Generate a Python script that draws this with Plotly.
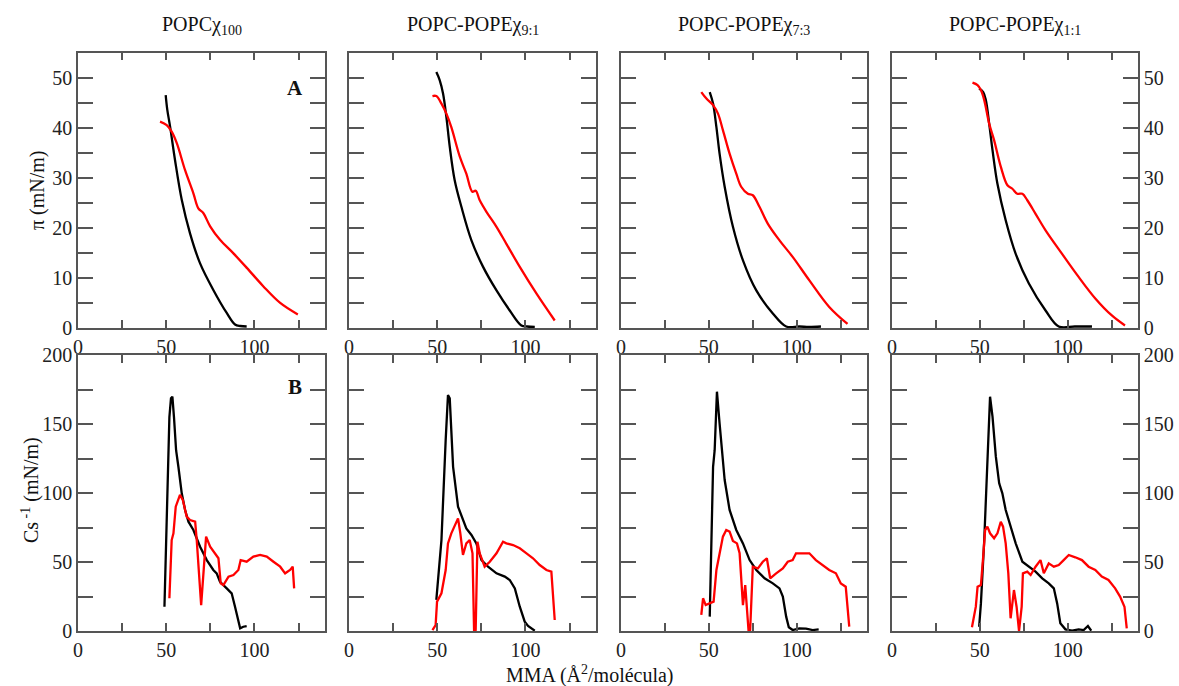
import plotly.graph_objects as go

# ---------------- data ----------------
panel_titles = ["POPCχ<sub>100</sub>", "POPC-POPEχ<sub>9:1</sub>",
                "POPC-POPEχ<sub>7:3</sub>", "POPC-POPEχ<sub>1:1</sub>"]
x_ticks = [0, 50, 100]
x_minor_step = 25
pi_ticks = [0, 10, 20, 30, 40, 50]
pi_minor_step = 5
cs_ticks = [0, 50, 100, 150, 200]
cs_minor_step = 25

# surface pressure isotherms (top row)
pi_black_x = [
    [49.7, 50.6, 52.2, 55.0, 58.8, 63.5, 69.2, 76.7, 84.3, 89.0, 92.0, 95.6],
    [49.5, 51.4, 53.3, 55.2, 57.1, 59.9, 63.7, 69.4, 76.0, 83.6, 91.1, 97.7, 101.0, 105.3],
    [50.5, 52.4, 54.3, 56.1, 59.0, 63.7, 69.4, 77.0, 86.4, 94.0, 101.5, 107.0, 113.8],
    [49.6, 51.9, 53.4, 55.3, 57.2, 60.0, 64.7, 70.4, 77.9, 87.4, 94.9, 104.0, 113.8],
]
pi_black_y = [
    [46.5, 43.6, 40.2, 33.5, 25.6, 18.9, 12.9, 7.6, 3.0, 0.7, 0.4, 0.3],
    [51.1, 49.5, 46.8, 42.1, 36.2, 29.5, 24.2, 17.5, 12.2, 7.5, 3.5, 0.5, 0.3, 0.2],
    [47.1, 44.8, 40.1, 34.8, 28.2, 20.2, 13.5, 7.5, 2.9, 0.3, 0.3, 0.2, 0.3],
    [47.8, 47.1, 45.5, 40.8, 35.5, 28.8, 21.5, 14.8, 8.9, 3.5, 0.3, 0.3, 0.3],
]
pi_red_x = [
    [46.5, 50.3, 53.1, 56.0, 60.7, 65.4, 68.2, 71.1, 74.9, 80.5, 88.1, 95.7, 105.1, 114.6, 124.6],
    [47.3, 49.5, 52.4, 55.2, 58.0, 62.8, 66.5, 69.9, 71.8, 74.1, 77.9, 83.6, 89.2, 96.8, 106.2, 116.6],
    [45.7, 48.6, 52.4, 55.2, 58.0, 61.8, 65.6, 68.4, 72.2, 75.0, 78.8, 83.6, 90.2, 97.7, 107.2, 118.5, 128.9],
    [45.8, 48.7, 50.6, 52.5, 55.3, 58.1, 61.9, 65.7, 68.5, 71.3, 74.2, 77.0, 81.7, 87.4, 96.8, 106.2, 115.7, 125.1, 132.6],
]
pi_red_y = [
    [41.2, 40.5, 39.2, 36.9, 31.5, 26.9, 23.9, 22.9, 20.3, 17.6, 14.9, 12.0, 8.3, 5.0, 2.7],
    [46.3, 46.3, 44.8, 42.8, 40.1, 34.2, 30.8, 27.2, 27.4, 25.5, 23.2, 20.2, 16.8, 12.2, 6.9, 1.5],
    [47.1, 45.8, 44.5, 42.8, 39.5, 34.8, 30.8, 28.2, 26.8, 26.5, 24.2, 20.8, 17.5, 14.2, 9.5, 4.2, 0.8],
    [49.0, 48.5, 47.5, 45.5, 40.8, 37.5, 32.2, 28.5, 27.8, 26.8, 26.8, 25.5, 22.8, 19.5, 14.8, 10.2, 5.9, 2.5, 0.5],
]

# compressibility modulus (bottom row)
cs_black_x = [
    [49.0, 50.3, 51.8, 52.7, 53.5, 54.4, 55.6, 56.9, 58.8, 60.7, 62.6, 65.4, 69.2, 73.0, 76.7, 78.6, 80.5,
     84.3, 87.1, 89.0, 90.9, 91.9, 93.7, 95.6],
    [49.5, 52.4, 54.8, 56.1, 57.1, 59.0, 61.8, 63.7, 66.5, 69.4, 72.2, 75.1, 78.8, 83.6, 88.3, 91.1, 94.0,
     96.8, 99.6, 101.5, 105.3],
    [50.5, 51.4, 52.4, 53.3, 54.6, 56.1, 59.0, 61.8, 65.6, 69.4, 73.2, 77.0, 81.7, 86.4, 90.2, 92.1, 94.0,
     95.5, 97.7, 101.5, 105.3, 109.1, 112.5],
    [49.6, 50.6, 52.5, 54.3, 55.8, 57.2, 59.1, 61.0, 62.8, 64.7, 67.5, 70.4, 74.2, 77.9, 81.7, 85.5, 89.2,
     92.1, 94.0, 95.8, 98.7, 102.5, 106.2, 109.1, 111.5, 113.4],
]
cs_black_y = [
    [17.6, 90.0, 155.0, 168.6, 169.8, 155.0, 131.0, 119.0, 99.8, 87.7, 79.2, 73.2, 61.1, 51.4, 44.2, 41.8, 35.7,
     30.9, 27.3, 17.6, 5.6, 1.9, 3.1, 3.6],
    [22.5, 65.9, 138.4, 171.0, 168.6, 119.0, 90.1, 84.1, 74.4, 69.6, 63.5, 51.4, 46.6, 41.8, 39.4, 37.0, 30.9,
     17.6, 6.8, 3.6, 0.2],
    [10.4, 65.9, 119.0, 131.0, 173.4, 150.5, 109.4, 87.7, 73.2, 63.5, 51.4, 44.2, 38.2, 34.5, 30.9, 24.9, 10.4,
     2.7, 0.7, 1.9, 1.7, 0.7, 1.2],
    [3.1, 20.0, 65.9, 126.3, 169.8, 155.3, 126.3, 107.0, 99.8, 87.7, 75.6, 63.5, 50.2, 46.6, 43.0, 38.2, 34.5,
     30.9, 20.0, 5.6, 1.2, 0.2, 1.2, 0.7, 3.6, 0.2],
]
cs_red_x = [
    [51.8, 53.1, 54.1, 55.4, 57.8, 59.4, 61.6, 63.5, 66.4, 67.3, 69.8, 72.1, 72.6, 74.9, 79.6, 80.9, 82.4,
     85.3, 88.1, 90.9, 92.2, 95.6, 99.4, 103.2, 107.0, 110.8, 114.6, 117.4, 120.2, 121.7, 122.5],
    [47.3, 49.1, 49.9, 52.4, 54.8, 56.1, 58.0, 59.9, 61.8, 63.1, 64.6, 66.5, 68.4, 70.0, 70.9, 71.8, 72.8,
     74.1, 76.9, 79.8, 83.6, 87.3, 89.2, 93.0, 96.8, 100.6, 104.3, 108.1, 111.9, 114.7, 116.6],
    [45.7, 46.7, 48.2, 50.5, 52.7, 54.3, 56.1, 58.0, 59.9, 61.8, 63.7, 66.0, 67.5, 69.4, 70.7, 72.6, 73.5,
     75.0, 77.9, 80.7, 83.0, 84.9, 88.3, 92.1, 94.9, 97.7, 99.6, 103.4, 107.2, 110.9, 114.7, 118.5, 122.3,
     125.1, 127.9, 129.9],
    [45.5, 47.7, 48.7, 50.6, 51.9, 53.0, 54.3, 55.8, 58.1, 60.0, 61.9, 63.2, 64.7, 66.2, 67.5, 69.4, 70.9,
     72.3, 73.8, 74.5, 77.0, 78.9, 81.7, 84.5, 86.4, 89.2, 92.1, 94.9, 97.7, 100.6, 104.3, 108.1, 111.9,
     115.7, 119.4, 123.2, 127.0, 129.8, 132.3, 133.6],
]
cs_red_y = [
    [23.7, 65.9, 70.8, 90.1, 98.6, 94.9, 82.9, 80.4, 79.2, 65.9, 18.8, 65.9, 68.4, 61.1, 52.7, 34.5, 33.3,
     39.4, 40.6, 44.2, 51.4, 50.2, 53.9, 55.1, 53.9, 50.2, 46.6, 41.8, 44.2, 46.6, 30.9],
    [0.7, 4.3, 21.3, 27.3, 44.2, 63.5, 70.8, 75.6, 81.6, 70.8, 55.1, 63.5, 65.9, 56.3, 0.0, 0.7, 64.7,
     56.3, 46.6, 50.2, 56.3, 64.7, 63.5, 62.3, 59.9, 56.3, 52.7, 47.8, 44.2, 43.0, 8.0],
    [11.6, 23.7, 18.8, 20.0, 21.3, 44.2, 56.3, 68.4, 73.2, 72.0, 65.3, 63.5, 56.3, 18.8, 33.3, 0.0, 0.7,
     46.6, 45.4, 50.2, 52.7, 38.2, 41.8, 45.4, 50.2, 51.4, 56.3, 56.3, 56.3, 51.4, 47.8, 44.2, 41.8,
     34.5, 32.1, 3.1],
    [2.7, 17.6, 32.1, 33.3, 53.9, 73.2, 75.6, 70.8, 67.2, 70.8, 79.2, 75.6, 63.5, 41.8, 9.2, 29.7, 17.6,
     0.0, 17.6, 41.8, 43.0, 40.6, 46.6, 51.4, 41.8, 49.0, 46.6, 47.8, 51.4, 55.1, 53.4, 51.4, 46.6,
     44.2, 39.4, 37.0, 30.9, 24.9, 17.6, 1.9],
]

# ---------------- layout ----------------
W, H = 1179, 686
col_px = [(78, 325), (349, 596), (621, 867), (892, 1138)]
top_px = (52.5, 328)
bot_px = (355, 631)
FONT = "Liberation Serif"
AX = "#555555"


def xd(a, b):
    return [a / W, b / W]


def yd(t, b):
    return [1 - b / H, 1 - t / H]


fig = go.Figure()
layout = {}
for i in range(4):
    for row in range(2):
        n = i + 1 + 4 * row
        xk = "xaxis" if n == 1 else f"xaxis{n}"
        yk = "yaxis" if n == 1 else f"yaxis{n}"
        xr = "x" if n == 1 else f"x{n}"
        yr = "y" if n == 1 else f"y{n}"
        layout[xk] = dict(
            domain=xd(*col_px[i]), range=[0, 140], anchor=yr, automargin=False,
            tickmode="array", tickvals=x_ticks, ticks="inside", ticklen=8,
            tickwidth=1.5, tickcolor=AX, mirror="ticks", showline=True,
            minor=dict(tickmode="linear", tick0=0, dtick=x_minor_step, ticks="inside",
                       ticklen=8, tickwidth=1.5, tickcolor=AX, showgrid=False),
            linecolor=AX, linewidth=1.5, showgrid=False, zeroline=False,
            tickfont=dict(family=FONT, size=20, color="#222"), fixedrange=True,
        )
        if row == 0:
            rng, tv, ms, dom = [0, 55], pi_ticks, pi_minor_step, yd(*top_px)
        else:
            rng, tv, ms, dom = [0, 200], cs_ticks, cs_minor_step, yd(*bot_px)
        layout[yk] = dict(
            domain=dom, range=rng, anchor=xr, automargin=False,
            tickmode="array", tickvals=tv, ticks="inside", ticklen=15,
            tickwidth=1.5, tickcolor=AX, mirror="ticks", showline=True,
            minor=dict(tickmode="linear", tick0=0, dtick=ms, ticks="inside",
                       ticklen=15, tickwidth=1.5, tickcolor=AX, showgrid=False),
            linecolor=AX, linewidth=1.5, showgrid=False, zeroline=False,
            side="right" if i == 3 else "left",
            showticklabels=(i == 0 or i == 3),
            tickfont=dict(family=FONT, size=20, color="#222"), fixedrange=True,
        )
        if row == 0:
            bx, by, rx, ry = pi_black_x[i], pi_black_y[i], pi_red_x[i], pi_red_y[i]
            shape = "spline"
        else:
            bx, by, rx, ry = cs_black_x[i], cs_black_y[i], cs_red_x[i], cs_red_y[i]
            shape = "linear"
        fig.add_trace(go.Scatter(x=bx, y=by, mode="lines", xaxis=xr, yaxis=yr,
                                 line=dict(color="black", width=2.3, shape=shape),
                                 showlegend=False, hoverinfo="skip"))
        fig.add_trace(go.Scatter(x=rx, y=ry, mode="lines", xaxis=xr, yaxis=yr,
                                 line=dict(color="#ff0000", width=2.3, shape=shape),
                                 showlegend=False, hoverinfo="skip"))

annotations = []
for i in range(4):
    cx = (col_px[i][0] + col_px[i][1]) / 2 / W
    annotations.append(dict(text=panel_titles[i], x=cx, y=1 - 25 / H, xref="paper", yref="paper",
                            showarrow=False, xanchor="center", yanchor="middle",
                            font=dict(family=FONT, size=20, color="#111")))
annotations += [
    dict(text="<b>A</b>", x=123, y=48, xref="x", yref="y", showarrow=False,
         font=dict(family=FONT, size=21, color="#111")),
    dict(text="<b>B</b>", x=123, y=177, xref="x5", yref="y5", showarrow=False,
         font=dict(family=FONT, size=21, color="#111")),
    dict(text="π (mN/m)", x=37 / W, y=1 - 190 / H, xref="paper", yref="paper", showarrow=False,
         textangle=-90, xanchor="center", yanchor="middle",
         font=dict(family=FONT, size=20, color="#111")),
    dict(text="Cs<sup> -1</sup> (mN/m)", x=30 / W, y=1 - 490 / H, xref="paper", yref="paper",
         showarrow=False, textangle=-90, xanchor="center", yanchor="middle",
         font=dict(family=FONT, size=20, color="#111")),
    dict(text="MMA (Å<sup>2</sup>/molécula)", x=590 / W, y=1 - 674 / H, xref="paper", yref="paper",
         showarrow=False, xanchor="center", yanchor="middle",
         font=dict(family=FONT, size=20, color="#111")),
]

fig.update_layout(
    width=W, height=H, margin=dict(l=0, r=0, t=0, b=0, pad=0), autosize=False,
    paper_bgcolor="white", plot_bgcolor="white",
    annotations=annotations, **layout,
)
fig.write_html("out.html", config={"displayModeBar": False},
               post_script="document.body.style.margin='0';document.body.style.overflow='hidden';")
